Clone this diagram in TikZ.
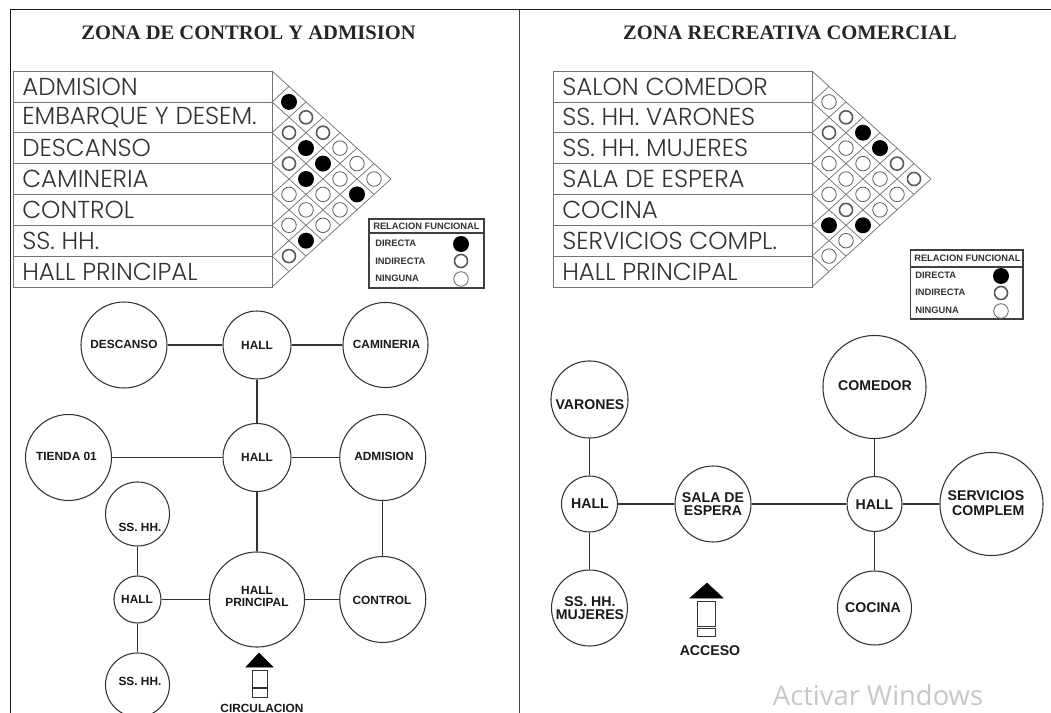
\documentclass[tikz,border=0pt]{standalone}
\usepackage{fontspec}
\usepackage{tikz}
\newfontfamily\titlefont{Liberation Serif}
\newfontfamily\tablefont{Poppins Light}
\newfontfamily\labelfont{Liberation Sans}
\newfontfamily\winfont{Open Sans}
\definecolor{linegray}{rgb}{0.45,0.45,0.45}
\definecolor{ringgray}{rgb}{0.35,0.35,0.35}
\definecolor{bubblegray}{rgb}{0.2,0.2,0.2}
\tikzset{
  titletext/.style={inner sep=0pt,font=\titlefont\bfseries\fontsize{15.4}{17}\selectfont,text=black!85},
  rowtext/.style={anchor=west,inner sep=0pt,font=\tablefont\fontsize{18.4}{20}\selectfont,text=black!80},
  zone/.style={circle,draw=bubblegray,line width=0.8pt,fill=white,inner sep=0pt,align=center},
  zonetext/.style={inner sep=0pt,align=center,font=\labelfont\bfseries\fontsize{8.9}{8.3}\selectfont,text=black!90},
  zonetextb/.style={inner sep=0pt,align=center,font=\labelfont\bfseries\fontsize{10.6}{9.6}\selectfont,text=black!90},
  link/.style={draw=bubblegray,line width=0.9pt},
  grid/.style={draw=linegray,line width=0.55pt},
  directa/.style={circle,fill=black,inner sep=0pt,minimum size=12pt},
  indirecta/.style={circle,draw=ringgray,line width=1.2pt,fill=white,inner sep=0pt,minimum size=9.8pt},
  ninguna/.style={circle,draw=ringgray,line width=0.6pt,fill=white,inner sep=0pt,minimum size=10.9pt},
  legendtext/.style={anchor=west,inner sep=0pt,font=\labelfont\bfseries\fontsize{7}{8}\selectfont,text=black!80},
  flecha/.style={draw=bubblegray,line width=0.6pt,fill=white},
}

\begin{document}
\begin{tikzpicture}[x=0.75pt,y=0.75pt,yscale=-1,xscale=1]
\useasboundingbox (0,0) rectangle (1051,713);

%Frame
\draw [line width=1.3pt,color=black!90] (10.5,713) -- (10.5,9.5) -- (1051,9.5) ;
\draw [line width=1pt,color=black!75] (519.5,9.5) -- (519.5,713) ;

% Text Node
\node (titleA) at (248.5,33) [titletext] {ZONA DE CONTROL Y ADMISION};
\node (titleB) at (790,33) [titletext] {ZONA RECREATIVA COMERCIAL};

%Table left
\draw [grid] (13,71) rectangle (272,287) (13,101.9) -- (272,101.9) (13,132.7) -- (272,132.7) (13,163.6) -- (272,163.6) (13,194.4) -- (272,194.4) (13,225.3) -- (272,225.3) (13,256.1) -- (272,256.1) ;
\draw [grid] (272,71) -- (391,179) (272,101.9) -- (374,194.4) (272,132.7) -- (357,209.9) (272,163.6) -- (340,225.3) (272,194.4) -- (323,240.7) (272,225.3) -- (306,256.1) (272,256.1) -- (289,271.6) ;
\draw [grid] (272,287) -- (391,179) (272,256.1) -- (374,163.6) (272,225.3) -- (357,148.1) (272,194.4) -- (340,132.7) (272,163.6) -- (323,117.3) (272,132.7) -- (306,101.9) (272,101.9) -- (289,86.4) ;
\node (rowA1) at (22,86.5) [rowtext] {ADMISION};
\node (rowA2) at (22,117.3) [rowtext] {EMBARQUE Y DESEM.};
\node (rowA3) at (22,148.1) [rowtext] {DESCANSO};
\node (rowA4) at (22,179) [rowtext] {CAMINERIA};
\node (rowA5) at (22,209.9) [rowtext] {CONTROL};
\node (rowA6) at (22,240.7) [rowtext] {SS. HH.};
\node (rowA7) at (22,271.6) [rowtext] {HALL PRINCIPAL};

%Marks left
\node (markA1) at (289,101.9) [directa] {};
\node (markA2) at (306,117.3) [indirecta] {};
\node (markA3) at (289,132.7) [indirecta] {};
\node (markA4) at (323,132.7) [indirecta] {};
\node (markA5) at (306,148.1) [directa] {};
\node (markA6) at (340,148.1) [ninguna] {};
\node (markA7) at (289,163.6) [indirecta] {};
\node (markA8) at (323,163.6) [directa] {};
\node (markA9) at (357,163.6) [ninguna] {};
\node (markA10) at (306,179) [directa] {};
\node (markA11) at (340,179) [ninguna] {};
\node (markA12) at (374,179) [ninguna] {};
\node (markA13) at (289,194.4) [ninguna] {};
\node (markA14) at (323,194.4) [ninguna] {};
\node (markA15) at (357,194.4) [directa] {};
\node (markA16) at (306,209.9) [ninguna] {};
\node (markA17) at (340,209.9) [ninguna] {};
\node (markA18) at (289,225.3) [ninguna] {};
\node (markA19) at (323,225.3) [ninguna] {};
\node (markA20) at (306,240.7) [directa] {};
\node (markA21) at (289,256.1) [indirecta] {};

%Legend left
\draw [line width=0.8pt,color=black!75] (369,219) rectangle (484,288) (369,233) -- (484,233) ;
\node (legA0) at (373,226) [legendtext] {RELACION FUNCIONAL};
\node (legA1) at (375,243) [legendtext] {DIRECTA};
\node (legA2) at (375,261) [legendtext] {INDIRECTA};
\node (legA3) at (375,278) [legendtext] {NINGUNA};
\node (legmarkA1) at (461,244) [directa] {};
\node (legmarkA2) at (461,261) [indirecta] {};
\node (legmarkA3) at (461,279) [ninguna] {};

%Table right
\draw [grid] (553,71) rectangle (812,287) (553,101.9) -- (812,101.9) (553,132.7) -- (812,132.7) (553,163.6) -- (812,163.6) (553,194.4) -- (812,194.4) (553,225.3) -- (812,225.3) (553,256.1) -- (812,256.1) ;
\draw [grid] (812,71) -- (931,179) (812,101.9) -- (914,194.4) (812,132.7) -- (897,209.9) (812,163.6) -- (880,225.3) (812,194.4) -- (863,240.7) (812,225.3) -- (846,256.1) (812,256.1) -- (829,271.6) ;
\draw [grid] (812,287) -- (931,179) (812,256.1) -- (914,163.6) (812,225.3) -- (897,148.1) (812,194.4) -- (880,132.7) (812,163.6) -- (863,117.3) (812,132.7) -- (846,101.9) (812,101.9) -- (829,86.4) ;
\node (rowB1) at (562,86.5) [rowtext] {SALON COMEDOR};
\node (rowB2) at (562,117.3) [rowtext] {SS. HH. VARONES};
\node (rowB3) at (562,148.1) [rowtext] {SS. HH. MUJERES};
\node (rowB4) at (562,179) [rowtext] {SALA DE ESPERA};
\node (rowB5) at (562,209.9) [rowtext] {COCINA};
\node (rowB6) at (562,240.7) [rowtext] {SERVICIOS COMPL.};
\node (rowB7) at (562,271.6) [rowtext] {HALL PRINCIPAL};

%Marks right
\node (markB1) at (829,101.9) [ninguna] {};
\node (markB2) at (846,117.3) [indirecta] {};
\node (markB3) at (829,132.7) [indirecta] {};
\node (markB4) at (863,132.7) [directa] {};
\node (markB5) at (846,148.1) [ninguna] {};
\node (markB6) at (880,148.1) [directa] {};
\node (markB7) at (829,163.6) [ninguna] {};
\node (markB8) at (863,163.6) [ninguna] {};
\node (markB9) at (897,163.6) [indirecta] {};
\node (markB10) at (846,179) [ninguna] {};
\node (markB11) at (880,179) [ninguna] {};
\node (markB12) at (914,179) [indirecta] {};
\node (markB13) at (829,194.4) [ninguna] {};
\node (markB14) at (863,194.4) [ninguna] {};
\node (markB15) at (897,194.4) [ninguna] {};
\node (markB16) at (846,209.9) [indirecta] {};
\node (markB17) at (880,209.9) [ninguna] {};
\node (markB18) at (829,225.3) [directa] {};
\node (markB19) at (863,225.3) [directa] {};
\node (markB20) at (846,240.7) [ninguna] {};
\node (markB21) at (829,256.1) [ninguna] {};

%Legend right
\draw [line width=0.8pt,color=black!75] (910.5,250) rectangle (1023,319) (910.5,267) -- (1023,267) ;
\node (legB0) at (914,258) [legendtext] {RELACION FUNCIONAL};
\node (legB1) at (915,275) [legendtext] {DIRECTA};
\node (legB2) at (915,292) [legendtext] {INDIRECTA};
\node (legB3) at (915,310) [legendtext] {NINGUNA};
\node (legmarkB1) at (1001,276) [directa] {};
\node (legmarkB2) at (1001,293) [indirecta] {};
\node (legmarkB3) at (1001,311) [ninguna] {};

%Zones left
\node (descanso) at (124,345) [zone,minimum size=64.5pt] {};
\node (hallA) at (257,345) [zone,minimum size=51pt] {};
\node (camineria) at (385.5,345) [zone,minimum size=63.8pt] {};
\node (tienda) at (68.5,457.5) [zone,minimum size=64.5pt] {};
\node (hallB) at (257,457.5) [zone,minimum size=51pt] {};
\node (admision) at (382.75,457.5) [zone,minimum size=64.5pt] {};
\node (sshhA) at (137.5,514) [zone,minimum size=48pt] {};
\node (hallC) at (137.5,599.5) [zone,minimum size=35.3pt] {};
\node (hallppal) at (257,599.5) [zone,minimum size=71.3pt] {};
\node (control) at (382.75,599.5) [zone,minimum size=64.5pt] {};
\node (sshhB) at (137.5,685) [zone,minimum size=48pt] {};

% Text Node
\node (txtdescanso) at (124,344) [zonetext] {DESCANSO};
\node (txthallA) at (257,345.5) [zonetext] {HALL};
\node (txtcamineria) at (386.5,344) [zonetext] {CAMINERIA};
\node (txttienda) at (66.5,456.5) [zonetext] {TIENDA 01};
\node (txthallB) at (257,457.5) [zonetext] {HALL};
\node (txtadmision) at (384,456.5) [zonetext] {ADMISION};
\node (txtsshhA) at (140,527.5) [zonetext] {SS. HH.};
\node (txthallC) at (137,599.5) [zonetext] {HALL};
\node (txthallppal) at (257,596.5) [zonetext] {HALL\\PRINCIPAL};
\node (txtcontrol) at (382,600.5) [zonetext] {CONTROL};
\node (txtsshhB) at (140,681) [zonetext] {SS. HH.};
\node (txtcirculacion) at (262,708.5) [zonetext] {CIRCULACION};

%Links left
\draw [link] (descanso) -- (hallA) ;
\draw [link] (hallA) -- (camineria) ;
\draw [link] (hallA) -- (hallB) ;
\draw [link] (tienda) -- (hallB) ;
\draw [link] (hallB) -- (admision) ;
\draw [link] (hallB) -- (hallppal) ;
\draw [link] (admision) -- (control) ;
\draw [link] (hallppal) -- (control) ;
\draw [link] (hallC) -- (hallppal) ;
\draw [link] (sshhA) -- (hallC) ;
\draw [link] (hallC) -- (sshhB) ;

%Arrow left
\draw [fill=black,draw=black] (259,653) -- (273,667) -- (246,667) -- cycle ;
\draw [flecha] (252,670) rectangle (267,687) ;
\draw [flecha] (252,688.5) rectangle (267,697) ;

%Zones right
\node (varones) at (589.5,399.5) [zone,minimum size=57.8pt] {};
\node (comedor) at (874.5,387) [zone,minimum size=77.3pt] {};
\node (hallD) at (589.5,504) [zone,minimum size=42pt] {};
\node (sala) at (713,504) [zone,minimum size=57pt] {};
\node (hallE) at (874.5,504) [zone,minimum size=41.3pt] {};
\node (servicios) at (991.5,504) [zone,minimum size=77.3pt] {};
\node (mujeres) at (589.5,608) [zone,minimum size=57pt] {};
\node (cocina) at (874.5,608) [zone,minimum size=55.5pt] {};

% Text Node
\node (txtvarones) at (590,405) [zonetextb] {VARONES};
\node (txtcomedor) at (875,386) [zonetextb] {COMEDOR};
\node (txthallD) at (590,504) [zonetextb] {HALL};
\node (txtsala) at (713,504.5) [zonetextb] {SALA DE\\ESPERA};
\node (txthallE) at (874.5,504.5) [zonetextb] {HALL};
\node (txtservicios) at (986,503) [zonetextb,align=right,font=\labelfont\bfseries\fontsize{10.6}{11.2}\selectfont] {SERVICIOS\\COMPLEM};
\node (txtmujeres) at (590,608) [zonetextb] {SS. HH.\\MUJERES};
\node (txtcocina) at (873,607.5) [zonetextb] {COCINA};
\node (txtacceso) at (710,650.5) [zonetextb] {ACCESO};
\node (txtwindows) at (878,695) [inner sep=0pt,font=\winfont\fontsize{20.5}{22}\selectfont,text=black!22] {Activar Windows};

%Links right
\draw [link] (varones) -- (hallD) ;
\draw [link] (hallD) -- (mujeres) ;
\draw [link] (hallD) -- (sala) ;
\draw [link] (sala) -- (hallE) ;
\draw [link] (comedor) -- (hallE) ;
\draw [link] (hallE) -- (servicios) ;
\draw [link] (hallE) -- (cocina) ;

%Arrow right
\draw [fill=black,draw=black] (707,583) -- (723,598) -- (690,598) -- cycle ;
\draw [flecha] (697,601) rectangle (715,626) ;
\draw [flecha] (697,628) rectangle (715,636) ;

\end{tikzpicture}
\end{document}
